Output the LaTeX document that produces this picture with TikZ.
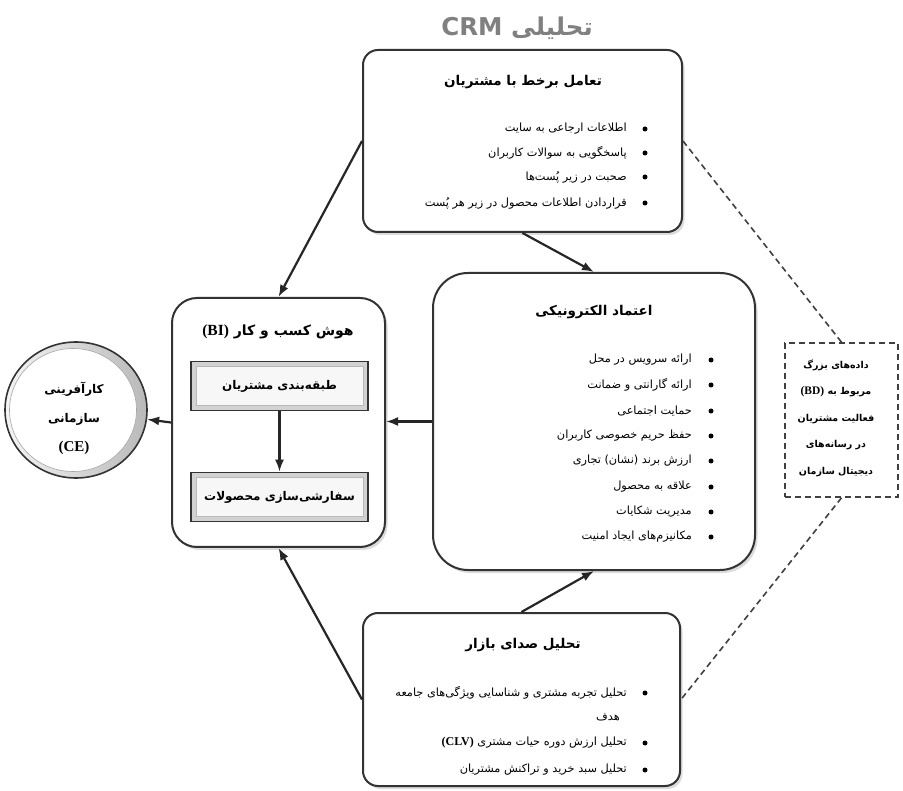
\documentclass[tikz,border=0pt]{standalone}
\usepackage{fontspec}
\usepackage{tikz}
\usetikzlibrary{arrows.meta,shadows,shapes.geometric,positioning}
\TeXXeTstate=1
\newfontfamily\fa[Script=Arabic]{DejaVu Sans}
\newfontfamily\lat{Liberation Serif}
\newcommand{\rtl}[1]{\beginR#1\endR}
\definecolor{edge}{HTML}{333333}
\definecolor{crmgray}{HTML}{808080}
\tikzset{
  panel/.style={draw=edge, line width=2pt, fill=white, rounded corners=#1,
    drop shadow={shadow xshift=2.5pt, shadow yshift=-3pt, fill=gray!55}},
  paneltitle/.style={font=\fa\bfseries\fontsize{13.5}{15}\selectfont, inner sep=0pt},
  itemtext/.style={font=\fa\fontsize{11.3}{13}\selectfont, anchor=east, inner sep=0pt},
  stagebox/.style={draw=edge, line width=1.6pt, fill=gray!35, minimum width=177pt,
    minimum height=49pt, inner sep=0pt, font=\fa\bfseries\fontsize{12}{14}\selectfont,
    path picture={
      \fill[gray!6] ([shift={(5pt,5pt)}]path picture bounding box.south west)
        rectangle ([shift={(-5pt,-5pt)}]path picture bounding box.north east);
      \draw[gray!55, line width=0.5pt] ([shift={(5pt,5pt)}]path picture bounding box.south west)
        rectangle ([shift={(-5pt,-5pt)}]path picture bounding box.north east);
    }},
  conn/.style={draw=black!85, line width=2.2pt, -{Latex[length=12pt,width=9pt]}},
  dashlink/.style={draw=black!75, line width=1.6pt, dash pattern=on 6pt off 4pt},
}

\begin{document}
\begin{tikzpicture}[x=1pt, y=-1pt]
    \useasboundingbox (0,0) rectangle (903,791);

    % Title
    \node[font=\fa\bfseries\fontsize{24.5}{27}\selectfont, text=crmgray] (crm) at (517,28)
        {\rtl{تحلیلی \beginL CRM\endL}};

    % Panels
    \node[panel=15pt, minimum width=319pt, minimum height=182pt] (chat) at (522.5,141) {};
    \node[panel=35pt, minimum width=322pt, minimum height=297pt] (trust) at (594,421.5) {};
    \node[panel=15pt, minimum width=317pt, minimum height=173pt] (voice) at (521.5,699.5) {};
    \node[panel=25pt, minimum width=213pt, minimum height=249pt] (bi) at (278.5,422.5) {};

    % Panel titles
    \node[paneltitle] (chat-title) at (523,82) {\rtl{تعامل برخط با مشتریان}};
    \node[paneltitle] (trust-title) at (594,312) {\rtl{اعتماد الکترونیکی}};
    \node[paneltitle] (voice-title) at (523,645) {\rtl{تحلیل صدای بازار}};
    \node[paneltitle, font=\fa\bfseries\fontsize{14}{15}\selectfont] (bi-title) at (278,332)
        {\rtl{هوش کسب و کار \beginL{\lat\bfseries\fontsize{15.5}{15}\selectfont (BI)}\endL}};

    % Online interaction items
    \foreach \y/\txt [count=\i] in {
        129/اطلاعات ارجاعی به سایت,
        153/پاسخگویی به سوالات کاربران,
        177/صحبت در زیر پُست^^^^200cها,
        203/قراردادن اطلاعات محصول در زیر هر پُست}{
        \node[itemtext] (chat-item\i) at (627,\y) {\rtl{\txt}};
        \fill (645,\y) circle (2.5pt);
    }

    % E-trust items
    \foreach \y/\txt [count=\i] in {
        360/ارائه سرویس در محل,
        385/ارائه گارانتی و ضمانت,
        411/حمایت اجتماعی,
        436/حفظ حریم خصوصی کاربران,
        461/ارزش برند (نشان) تجاری,
        487/علاقه به محصول,
        512/مدیریت شکایات,
        537/مکانیزم^^^^200cهای ایجاد امنیت}{
        \node[itemtext] (trust-item\i) at (692,\y) {\rtl{\txt}};
        \fill (711,\y) circle (2.5pt);
    }

    % Market voice items
    \foreach \y/\txt [count=\i] in {
        693/تحلیل تجربه مشتری و شناسایی ویژگی^^^^200cهای جامعه,
        743/تحلیل ارزش دوره حیات مشتری \beginL{\lat\bfseries\fontsize{12}{13}\selectfont (CLV)}\endL,
        770/تحلیل سبد خرید و تراکنش مشتریان}{
        \node[itemtext] (voice-item\i) at (627,\y) {\rtl{\txt}};
        \fill (645,\y) circle (2.5pt);
    }
    \node[itemtext] (voice-item1b) at (620,717) {\rtl{هدف}};

    % Stages inside BI
    \node[stagebox] (seg) at (279.5,386) {\rtl{طبقه^^^^200cبندی مشتریان}};
    \node[stagebox] (custom) at (279.5,497) {\rtl{سفارشی^^^^200cسازی محصولات}};
    \draw[conn] (seg) -- (custom);

    % Corporate entrepreneurship
    \node[ellipse, draw=edge, line width=1.6pt, left color=gray!8, right color=gray!55,
        minimum width=142pt, minimum height=136pt, inner sep=0pt] (ce) at (76,410) {};
    \node[ellipse, draw=gray!70, line width=0.6pt, fill=white,
        minimum width=127pt, minimum height=123pt, inner sep=0pt] (ce-in) at (73,410) {};
    \node[font=\fa\bfseries\fontsize{12}{29}\selectfont, align=center] (ce-text) at (74,418)
        {\rtl{کارآفرینی}\\ \rtl{سازمانی}\\ {\lat\bfseries\fontsize{15}{29}\selectfont (CE)}};

    % Big data
    \node[dashlink, draw, minimum width=113pt, minimum height=154pt] (bd) at (841.5,420) {};
    \node[font=\fa\bfseries\fontsize{9.5}{26.5}\selectfont, align=center] (bd-text) at (836,418)
        {\rtl{داده^^^^200cهای بزرگ}\\
         \rtl{مربوط به \beginL{\lat\bfseries\fontsize{11.5}{26}\selectfont (BD)}\endL}\\
         \rtl{فعالیت مشتریان}\\ \rtl{در رسانه^^^^200cهای}\\ \rtl{دیجیتال سازمان}};

    % Connectors
    \draw[conn] (chat.west) -- (bi.north);
    \draw[conn] (chat.south) -- (trust.north);
    \draw[conn] (trust.west) -- (trust.west -| bi.east);
    \draw[conn] (voice.north) -- (trust.south);
    \draw[conn] (voice.west) -- (bi.south);
    \draw[conn] (bi.west) -- (ce);
    \draw[dashlink] (chat.east) -- (bd.north);
    \draw[dashlink] (bd.south) -- (voice.east);
\end{tikzpicture}
\end{document}
